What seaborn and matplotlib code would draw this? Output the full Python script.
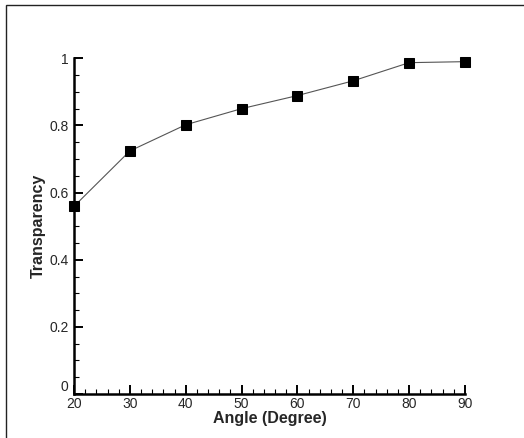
import numpy as np
import pandas as pd
import matplotlib
matplotlib.use("Agg")
import matplotlib.pyplot as plt
from matplotlib.patches import Rectangle
from matplotlib.ticker import MultipleLocator
import seaborn as sns

# values
angles = [20, 30, 40, 50, 60, 70, 80, 90]
transparency = [0.559, 0.724, 0.802, 0.850, 0.889, 0.933, 0.987, 0.990]

x_ticks = [20, 30, 40, 50, 60, 70, 80, 90]
y_ticks = [0, 0.2, 0.4, 0.6, 0.8, 1]
y_tick_labels = ["0", "0.2", "0.4", "0.6", "0.8", "1"]

df = pd.DataFrame({"Angle": angles, "Transparency": transparency})

sns.set_style("ticks")
plt.rcParams["font.family"] = ["Liberation Sans", "DejaVu Sans"]

fig = plt.figure(figsize=(5.24, 4.38), dpi=100)
ax = fig.add_axes([74 / 524, 1 - 394 / 438, (465 - 74) / 524, (394 - 58.3) / 438])

sns.lineplot(data=df, x="Angle", y="Transparency", ax=ax,
             color="#555555", linewidth=0.8, marker="s", markersize=7.5,
             markerfacecolor="black", markeredgecolor="black", clip_on=False)

ax.set_xlim(20, 90)
ax.set_ylim(0, 1)
ax.set_xticks(x_ticks)
ax.set_xticklabels([str(v) for v in x_ticks])
ax.set_yticks(y_ticks)
ax.set_yticklabels(y_tick_labels)
ax.xaxis.set_minor_locator(MultipleLocator(2))
ax.yaxis.set_minor_locator(MultipleLocator(0.05))

ax.tick_params(which="major", direction="in", length=6.5, width=1.4, labelsize=10, color="black")
ax.tick_params(which="minor", direction="in", length=3.5, width=0.8, color="black")
ax.tick_params(axis="x", which="major", pad=2)
ax.tick_params(axis="y", which="major", pad=4)

# the "0" label sits just above the x axis, clear of the "20"
ax.get_yticklabels()[0].set_verticalalignment("bottom")

for side in ["left", "bottom"]:
    ax.spines[side].set_linewidth(1.8)
    ax.spines[side].set_color("black")
ax.spines["top"].set_visible(False)
ax.spines["right"].set_visible(False)

ax.set_xlabel("Angle (Degree)", fontsize=11.5, fontweight="bold", labelpad=0)
ax.set_ylabel("Transparency", fontsize=11.5, fontweight="bold", labelpad=2)

# frame around the figure (only top and left edges fall inside the picture)
fig.patches.append(Rectangle((6 / 524, -0.1), 1.2, 1.1 - 5 / 438, fill=False,
                             edgecolor="#222222", linewidth=1.0,
                             transform=fig.transFigure, figure=fig))

fig.savefig("out.png", dpi=100)
